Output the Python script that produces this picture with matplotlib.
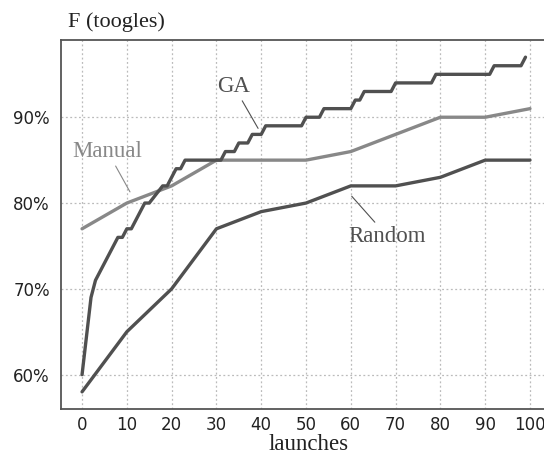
import matplotlib
matplotlib.use("Agg")
import matplotlib.pyplot as plt
from matplotlib.ticker import FuncFormatter

# data
launches = [0, 10, 20, 30, 40, 50, 60, 70, 80, 90, 100]
manual = [77, 80, 82, 85, 85, 85, 86, 88, 90, 90, 91]
random_f = [58, 65, 70, 77, 79, 80, 82, 82, 83, 85, 85]

ga_x = [0, 2, 3, 8, 9, 10, 11, 14, 15, 18, 19, 21, 22, 23, 31, 32, 34, 35, 37, 38,
        40, 41, 49, 50, 53, 54, 60, 61, 62, 63, 69, 70, 78, 79, 91, 92, 98, 99]
ga_y = [60, 69, 71, 76, 76, 77, 77, 80, 80, 82, 82, 84, 84, 85, 85, 86, 86, 87, 87, 88,
        88, 89, 89, 90, 90, 91, 91, 92, 92, 93, 93, 94, 94, 95, 95, 96, 96, 97]

x_ticks = [0, 10, 20, 30, 40, 50, 60, 70, 80, 90, 100]
y_ticks = [60, 70, 80, 90]

dark = '#505050'
light = '#888888'
serif = ['Liberation Serif', 'DejaVu Serif']

fig = plt.figure(figsize=(5.44, 4.53), dpi=100)
ax = fig.add_axes([61 / 544, 1 - 409 / 453, 486 / 544, 369 / 453])

ax.plot(launches, manual, color=light, lw=2.4, solid_capstyle='round')
ax.plot(launches, random_f, color=dark, lw=2.4, solid_capstyle='round')
ax.plot(ga_x, ga_y, color=dark, lw=2.4, solid_capstyle='round')

ax.set_xlim(-4.7, 103.8)
ax.set_ylim(56, 99)
ax.set_xticks(x_ticks)
ax.set_yticks(y_ticks)
ax.yaxis.set_major_formatter(FuncFormatter(lambda v, p: f'{int(v)}%'))
ax.tick_params(length=0, labelsize=12, colors='#222222')
ax.tick_params(axis='y', pad=8)
ax.tick_params(axis='x', pad=5)
ax.grid(True, linestyle=(0, (1.5, 2)), color='#bbbbbb', lw=0.9)
for s in ax.spines.values():
    s.set_color('#555555')
    s.set_linewidth(1.3)

# labels on the lines
ax.annotate('GA', xy=(39.3, 88.7), xytext=(33.9, 93.6), ha='center', va='center',
            fontsize=16.5, family=serif, color=dark,
            arrowprops=dict(arrowstyle='-', color=dark, lw=0.8, shrinkA=1, shrinkB=0))
ax.annotate('Manual', xy=(10.7, 81.3), xytext=(5.7, 86), ha='center', va='center',
            fontsize=16.5, family=serif, color=light,
            arrowprops=dict(arrowstyle='-', color=light, lw=0.8, shrinkA=1, shrinkB=0))
ax.annotate('Random', xy=(60.2, 80.8), xytext=(68.2, 76.1), ha='center', va='center',
            fontsize=16.5, family=serif, color=dark,
            arrowprops=dict(arrowstyle='-', color=dark, lw=0.8, shrinkA=1, shrinkB=0))

fig.text(68 / 544, 1 - 22 / 453, 'F (toogles)', fontsize=16, family=serif,
         va='center', ha='left', color='#222222')
fig.text(309 / 544, 1 - 444 / 453, 'launches', fontsize=16.5, family=serif,
         va='center', ha='center', color='#222222')

fig.savefig('out.png', dpi=100)
